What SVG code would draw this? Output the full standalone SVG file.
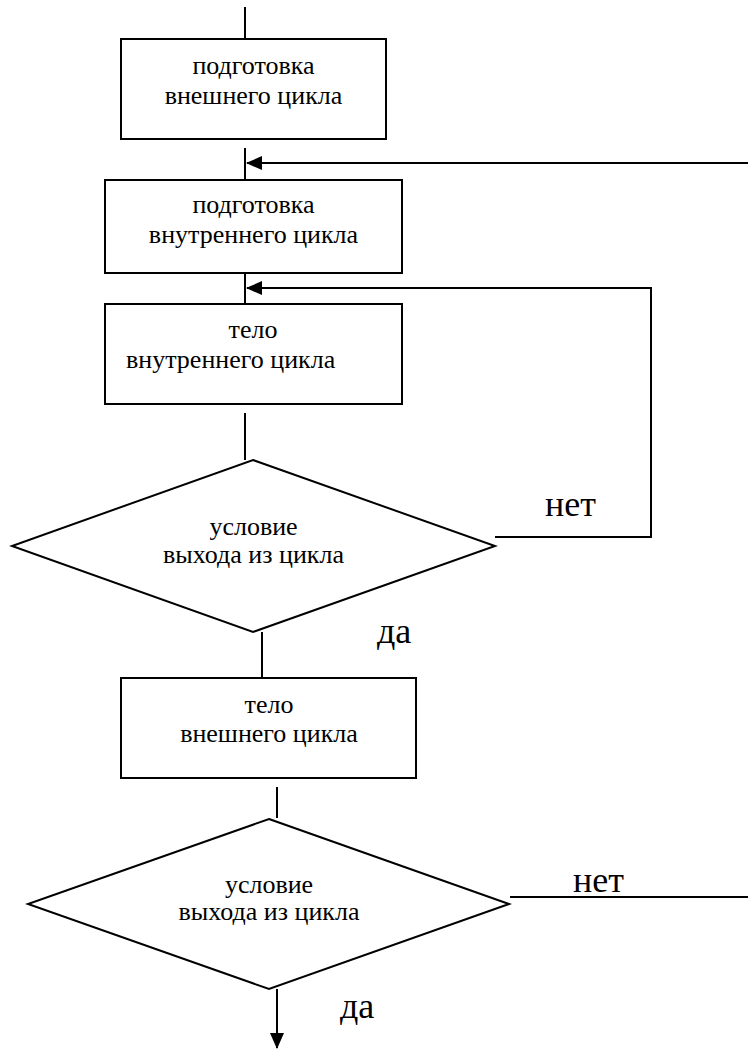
<svg xmlns="http://www.w3.org/2000/svg" width="748" height="1049" viewBox="0 0 748 1049">
<style>
.n{fill:#fff;stroke:#000;stroke-width:2}
.c{fill:none;stroke:#000;stroke-width:2}
.t{font-family:'Liberation Serif','Tinos','DejaVu Serif',serif;font-size:26px;fill:#000;text-anchor:middle}
.l{font-family:'Liberation Serif','Tinos','DejaVu Serif',serif;font-size:36px;fill:#000}
</style>
<defs>
<marker id="ah" markerUnits="userSpaceOnUse" markerWidth="16" markerHeight="16" viewBox="0 0 16 16" refX="15" refY="8" orient="auto">
<path d="M0,1 L16,8 L0,15 Z" fill="#000"/>
</marker>
</defs>
<rect width="748" height="1049" fill="#fff"/>
<g id="connectors">
<line class="c" x1="245" y1="7" x2="245" y2="39"/>
<line class="c" x1="245" y1="148" x2="245" y2="180"/>
<line class="c" x1="748" y1="163" x2="247" y2="163" marker-end="url(#ah)"/>
<line class="c" x1="245" y1="273" x2="245" y2="304"/>
<polyline class="c" points="495,537 651,537 651,288 247,288" marker-end="url(#ah)"/>
<line class="c" x1="245" y1="413" x2="245" y2="460"/>
<line class="c" x1="262" y1="632" x2="262" y2="678"/>
<line class="c" x1="277" y1="787" x2="277" y2="818"/>
<line class="c" x1="510" y1="897" x2="748" y2="897"/>
<line class="c" x1="277" y1="989" x2="277" y2="1048" marker-end="url(#ah)"/>
<text class="l" x="545" y="516">нет</text>
<text class="l" x="377" y="643">да</text>
<text class="l" x="573" y="892">нет</text>
<text class="l" x="340" y="1018">да</text>
</g>
<g id="prep-outer">
<rect class="n" x="121" y="39" width="265" height="100"/>
<text class="t" x="253.5" y="74">подготовка</text>
<text class="t" x="253.5" y="104">внешнего цикла</text>
</g>
<g id="prep-inner">
<rect class="n" x="105" y="180" width="297" height="93"/>
<text class="t" x="253.5" y="213">подготовка</text>
<text class="t" x="253.5" y="243">внутреннего цикла</text>
</g>
<g id="body-inner">
<rect class="n" x="105" y="304" width="297" height="100"/>
<text class="t" x="253" y="338">тело</text>
<text class="t" x="126" y="368" style="text-anchor:start">внутреннего цикла</text>
</g>
<g id="cond-inner">
<polygon class="n" points="253,460 495,546 253,632 12,546"/>
<text class="t" x="253.5" y="535">условие</text>
<text class="t" x="253.5" y="563">выхода из цикла</text>
</g>
<g id="body-outer">
<rect class="n" x="121" y="678" width="295" height="100"/>
<text class="t" x="269" y="713">тело</text>
<text class="t" x="269" y="742">внешнего цикла</text>
</g>
<g id="cond-outer">
<polygon class="n" points="269,819 509,904 269,989 28,904"/>
<text class="t" x="269" y="893">условие</text>
<text class="t" x="269" y="920">выхода из цикла</text>
</g>
</svg>
